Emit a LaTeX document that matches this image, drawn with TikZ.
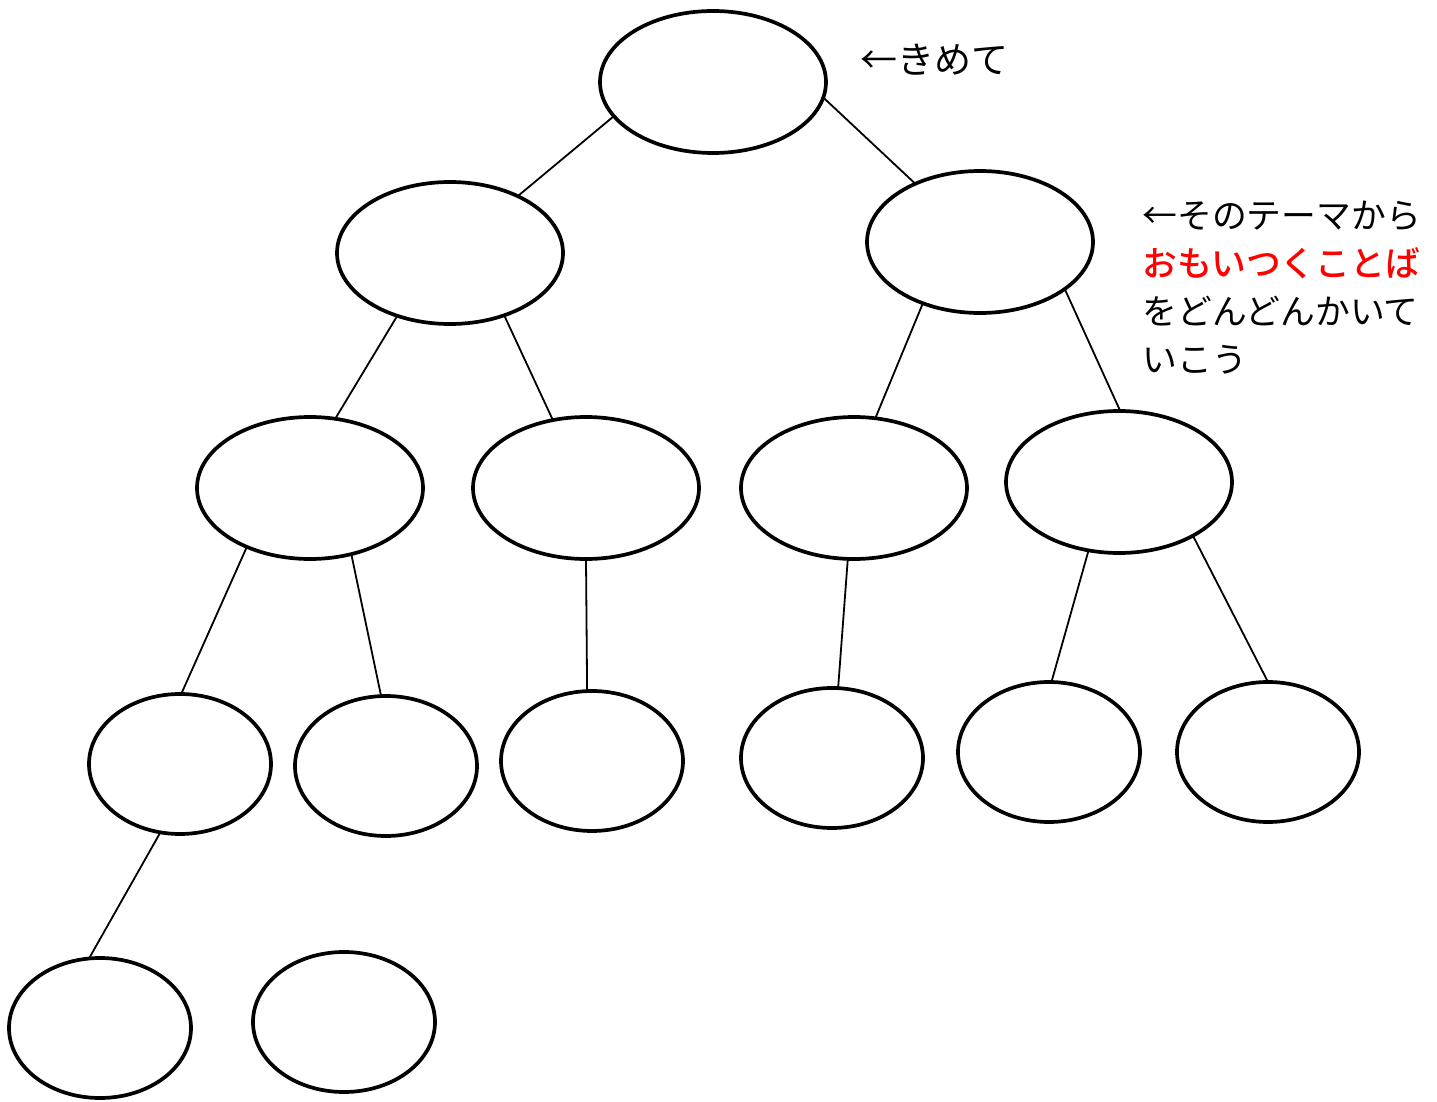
\documentclass[tikz,border=0pt]{standalone}
\usepackage{fontspec}
\newfontfamily\jp{Noto Sans CJK JP}[BoldFont={Noto Sans CJK JP Medium}]
\usetikzlibrary{shapes.geometric}

\tikzset{
  oval/.style={draw,ellipse,line width=1.85pt,inner sep=0pt,outer sep=0pt,
    minimum width=113pt,minimum height=71pt},
  small/.style={oval,minimum width=91pt,minimum height=70pt},
  edge/.style={line width=0.9pt}
}

\begin{document}
\begin{tikzpicture}[x=0.5pt,y=-0.5pt]
    \useasboundingbox (0,0) rectangle (1437,1102);

		\node [oval] (a) at (713,82) {}; %きめて
		\node [oval] (b) at (450,253) {};
		\node [oval] (c) at (980,242) {};
		\node [oval] (d) at (310,488) {};
		\node [oval] (e) at (586,488) {};
		\node [oval] (f) at (854,488) {};
		\node [oval] (g) at (1119,482) {};
		\node [small] (h) at (180,764) {};
		\node [small] (i) at (386,766) {};
		\node [small] (j) at (592,761) {};
		\node [small] (k) at (832,758) {};
		\node [small] (l) at (1049,752) {};
		\node [small] (m) at (1268,752) {};
		\node [small] (n) at (100,1028) {};
		\node [small] (o) at (344,1022) {};

		\draw [edge] (a.-161) -- (b.40);
		\draw [edge] (a.-8) -- (c.138);
		\draw [edge] (b.-130) -- (d.70);
		\draw [edge] (b.-49) -- (e.116);
		\draw [edge] (c.-133) -- (f.73);
		\draw [edge] (c.-29) -- (g.89);
		\draw [edge] (d.-137) -- (h.89);
		\draw [edge] (d.-58) -- (i.94);
		\draw [edge] (e.-90) -- (j.94);
		\draw [edge] (f.-95) -- (k.85);
		\draw [edge] (g.-114) -- (l.88);
		\draw [edge] (g.-36) -- (m.90);
		\draw [edge] (h.-106) -- (n.99);

		\node [anchor=west,inner sep=0pt,font=\jp\fontsize{18.5pt}{22pt}\selectfont]
		  (t1) at (860,60) {←きめて};
		\node [anchor=north west,inner sep=0pt,align=left,
		  font=\jp\fontsize{17.4pt}{24pt}\selectfont]
		  (t2) at (1142,201) {←そのテーマから\\ \textcolor{red}{\bfseries おもいつくことば}\\ をどんどんかいて\\ いこう}; %説明
\end{tikzpicture}
\end{document}
